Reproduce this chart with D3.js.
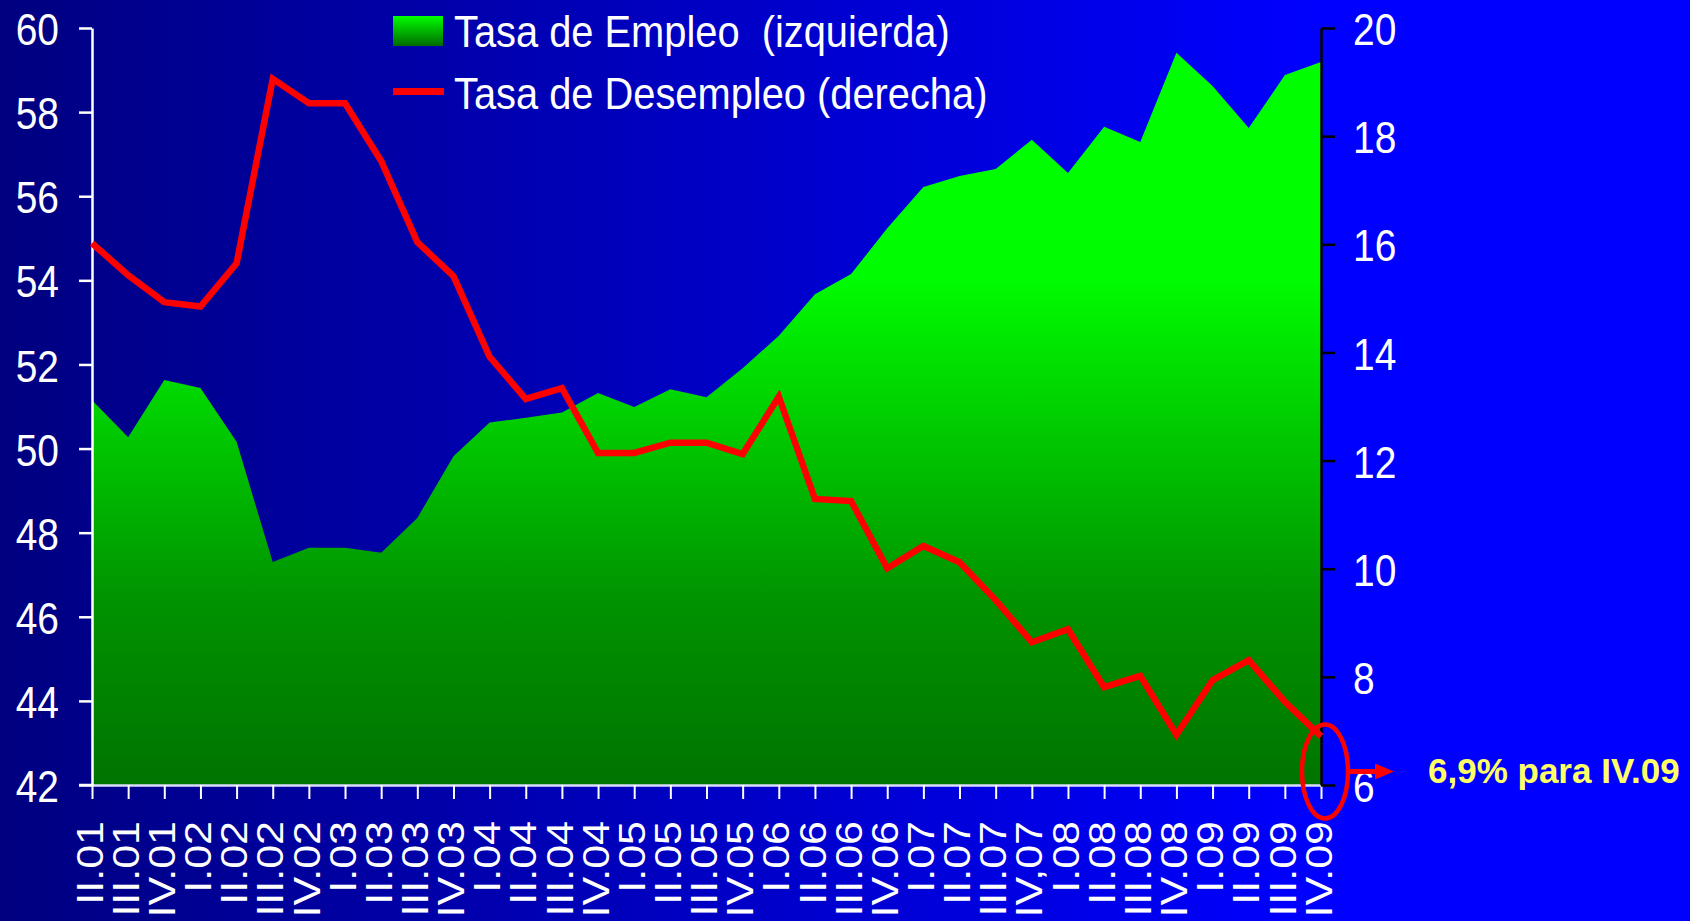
<!DOCTYPE html>
<html>
<head>
<meta charset="utf-8">
<script src="https://cdn.jsdelivr.net/npm/d3@7"></script>
<style>
  html, body { margin: 0; padding: 0; background: #000080; }
  svg { display: block; }
  text { font-family: "Liberation Sans", Arial, sans-serif; }
</style>
</head>
<body>
<svg id="chart" width="1690" height="921"></svg>
<script>
// ---- Data ----
const categories = ["II.01","III.01","IV.01","I.02","II.02","III.02","IV.02","I.03","II.03","III.03","IV.03",
  "I.04","II.04","III.04","IV.04","I.05","II.05","III.05","IV.05","I.06","II.06","III.06","IV.06",
  "I.07","II.07","III.07","IV,07","I.08","II.08","III.08","IV.08","I.09","II.09","III.09","IV.09"];
const empleo = [51.15,50.27,51.63,51.44,50.16,47.30,47.64,47.64,47.52,48.35,49.82,
  50.62,50.73,50.86,51.32,50.99,51.41,51.22,51.91,52.68,53.67,54.15,55.24,
  56.22,56.48,56.65,57.34,56.55,57.65,57.29,59.41,58.62,57.62,58.88,59.19];
const desempleo = [16.02,15.43,14.93,14.85,15.65,19.06,18.61,18.61,17.54,16.04,15.41,
  13.92,13.14,13.34,12.14,12.14,12.33,12.33,12.12,13.18,11.29,11.25,10.01,
  10.42,10.12,9.42,8.64,8.88,7.81,8.02,6.93,7.94,8.31,7.54,6.9];
const leftTicks = [42,44,46,48,50,52,54,56,58,60];
const rightTicks = [6,8,10,12,14,16,18,20];
const legendLabels = ["Tasa de Empleo  (izquierda)", "Tasa de Desempleo (derecha)"];
const annotationText = "6,9% para IV.09";

// ---- Layout ----
const W = 1690, H = 921;
const L = 92, R = 1321, T = 28, B = 785;
const SX = 0.865; // horizontal squeeze of the original typography

const svg = d3.select("#chart");
const defs = svg.append("defs");

const bg = defs.append("linearGradient").attr("id","bg")
  .attr("gradientUnits","userSpaceOnUse").attr("x1",0).attr("y1",0).attr("x2",W).attr("y2",0);
bg.append("stop").attr("offset",0).attr("stop-color","#000080");
bg.append("stop").attr("offset",0.78).attr("stop-color","#0000ff");
bg.append("stop").attr("offset",1).attr("stop-color","#0000ff");

const gg = defs.append("linearGradient").attr("id","green")
  .attr("gradientUnits","userSpaceOnUse").attr("x1",0).attr("y1",T).attr("x2",0).attr("y2",B);
[[0,"#00ff00"],[0.33,"#00fc00"],[0.54,"#00c800"],[0.76,"#009200"],[1,"#007400"]]
  .forEach(([o,c]) => gg.append("stop").attr("offset",o).attr("stop-color",c));

const lg = defs.append("linearGradient").attr("id","greenLegend").attr("x1",0).attr("y1",0).attr("x2",0).attr("y2",1);
lg.append("stop").attr("offset",0).attr("stop-color","#00ff00");
lg.append("stop").attr("offset",1).attr("stop-color","#006a00");

svg.append("rect").attr("width",W).attr("height",H).attr("fill","url(#bg)");

// ---- Scales ----
const x = d3.scalePoint().domain(categories).range([L, R]);
const yL = d3.scaleLinear().domain([42, 60]).range([B, T]);
const yR = d3.scaleLinear().domain([6, 20]).range([B, T]);

// ---- Area ----
const area = d3.area()
  .x((d,i) => x(categories[i]))
  .y0(yL(42))
  .y1(d => yL(d));
svg.append("path").datum(empleo).attr("d", area).attr("fill","url(#green)");

// ---- Axes ----
const xAxis = svg.append("g").attr("transform",`translate(0,${B})`)
  .call(d3.axisBottom(x).tickSize(14).tickSizeOuter(0));
xAxis.select(".domain").attr("stroke","#dcdcff").attr("stroke-width",2.5);
xAxis.selectAll(".tick line").attr("stroke","#ffffff").attr("stroke-width",2);
xAxis.selectAll(".tick text")
  .attr("x",null).attr("y",null).attr("dy",null)
  .attr("fill","#fff").attr("font-size",43).attr("text-anchor","end")
  .attr("transform","translate(-1,36) scale(" + SX + ",1) rotate(-90)")
  .attr("dy","0.3em");

const yAxisL = svg.append("g").attr("transform",`translate(${L},0)`)
  .call(d3.axisLeft(yL).tickValues(leftTicks).tickSize(13).tickSizeOuter(0).tickFormat(d3.format("d")));
yAxisL.select(".domain").attr("stroke","#fff").attr("stroke-width",2.5);
yAxisL.selectAll(".tick line").attr("stroke","#fff").attr("stroke-width",2.5);
yAxisL.selectAll(".tick text")
  .attr("x",0).attr("dy","0.37em")
  .attr("fill","#fff").attr("font-size",45)
  .attr("transform","translate(-33,0) scale(" + SX + ",1)");
svg.append("line").attr("x1",L-13).attr("x2",L).attr("y1",B).attr("y2",B)
  .attr("stroke","#fff").attr("stroke-width",2.5);

const yAxisR = svg.append("g").attr("transform",`translate(${R},0)`)
  .call(d3.axisRight(yR).tickValues(rightTicks).tickSize(14).tickSizeOuter(0).tickFormat(d3.format("d")));
yAxisR.select(".domain").attr("stroke","#000").attr("stroke-width",2.5);
yAxisR.selectAll(".tick line").attr("stroke","#000").attr("stroke-width",2.5);
yAxisR.selectAll(".tick text")
  .attr("x",0).attr("dy","0.37em")
  .attr("fill","#fff").attr("font-size",45)
  .attr("transform","translate(32,0) scale(" + SX + ",1)");
svg.selectAll(".domain").attr("fill","none");
svg.selectAll(".tick text").attr("font-family",'"Liberation Sans", Arial, sans-serif');

// ---- Line ----
const line = d3.line()
  .x((d,i) => x(categories[i]))
  .y(d => yR(d));
svg.append("path").datum(desempleo).attr("d", line)
  .attr("fill","none").attr("stroke","#ff0000").attr("stroke-width",6.5)
  .attr("stroke-linejoin","miter").attr("stroke-miterlimit",6);

// ---- Legend ----
const leg = svg.append("g");
leg.append("rect").attr("x",393).attr("y",16).attr("width",50).attr("height",30).attr("fill","url(#greenLegend)");
leg.append("line").attr("x1",393).attr("x2",444).attr("y1",91.5).attr("y2",91.5)
  .attr("stroke","#ff0000").attr("stroke-width",7);
[47, 109].forEach((by, i) => {
  leg.append("text").attr("transform",`translate(454,${by}) scale(0.885,1)`)
    .attr("xml:space","preserve").style("white-space","pre")
    .attr("fill","#fff").attr("font-size",45).text(legendLabels[i]);
});

// ---- Annotation ----
const lastCat = categories[categories.length-1];
const ax = x(lastCat) + 4, ay = yR(6.25);
svg.append("ellipse").attr("cx",ax).attr("cy",ay).attr("rx",23).attr("ry",47)
  .attr("fill","none").attr("stroke","#ff0000").attr("stroke-width",4.5);
svg.append("line").attr("x1",ax+23).attr("x2",ax+56).attr("y1",ay).attr("y2",ay)
  .attr("stroke","#ff0000").attr("stroke-width",5);
svg.append("path").attr("d",`M${ax+50},${ay-8}L${ax+69},${ay}L${ax+50},${ay+8}Z`).attr("fill","#ff0000");
svg.append("text").attr("x",1428).attr("y",ay+12)
  .attr("fill","#ffff66").attr("font-size",35).attr("font-weight","bold").text(annotationText);
</script>
</body>
</html>
